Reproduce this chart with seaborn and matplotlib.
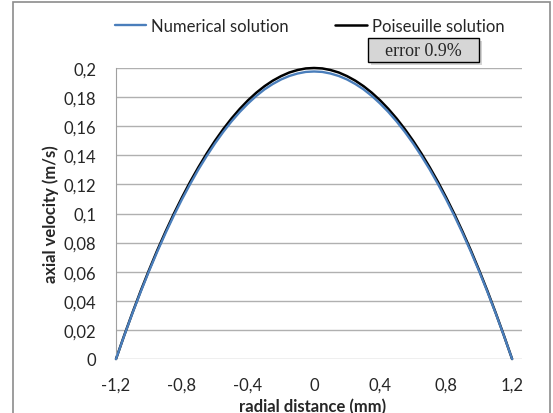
import matplotlib
matplotlib.use("Agg")
import matplotlib.pyplot as plt
import seaborn as sns
import pandas as pd
from matplotlib.patches import Rectangle

# radial positions (mm) and velocities (m/s)
radius = [-1.2, -1.15, -1.1, -1.05, -1.0, -0.95, -0.9, -0.85, -0.8, -0.75, -0.7, -0.65, -0.6,
          -0.55, -0.5, -0.45, -0.4, -0.35, -0.3, -0.25, -0.2, -0.15, -0.1, -0.05, 0.0,
          0.05, 0.1, 0.15, 0.2, 0.25, 0.3, 0.35, 0.4, 0.45, 0.5, 0.55, 0.6,
          0.65, 0.7, 0.75, 0.8, 0.85, 0.9, 0.95, 1.0, 1.05, 1.1, 1.15, 1.2]
numerical = [0.0, 0.0161, 0.0316, 0.0463, 0.0604, 0.0738, 0.0865, 0.0985, 0.1098, 0.1204, 0.1304, 0.1396, 0.1482,
             0.1561, 0.1633, 0.1698, 0.1756, 0.1808, 0.1853, 0.1890, 0.1921, 0.1945, 0.1962, 0.1973, 0.1976,
             0.1973, 0.1962, 0.1945, 0.1921, 0.1890, 0.1853, 0.1808, 0.1756, 0.1698, 0.1633, 0.1561, 0.1482,
             0.1396, 0.1304, 0.1204, 0.1098, 0.0985, 0.0865, 0.0738, 0.0604, 0.0463, 0.0316, 0.0161, 0.0]
poiseuille = [0.0, 0.0163, 0.0319, 0.0469, 0.0611, 0.0747, 0.0875, 0.0997, 0.1111, 0.1219, 0.1319, 0.1413, 0.1500,
              0.1580, 0.1653, 0.1719, 0.1778, 0.1830, 0.1875, 0.1913, 0.1944, 0.1969, 0.1986, 0.1997, 0.2000,
              0.1997, 0.1986, 0.1969, 0.1944, 0.1913, 0.1875, 0.1830, 0.1778, 0.1719, 0.1653, 0.1580, 0.1500,
              0.1413, 0.1319, 0.1219, 0.1111, 0.0997, 0.0875, 0.0747, 0.0611, 0.0469, 0.0319, 0.0163, 0.0]
x_ticks = [-1.2, -0.8, -0.4, 0, 0.4, 0.8, 1.2]
y_ticks = [0, 0.02, 0.04, 0.06, 0.08, 0.1, 0.12, 0.14, 0.16, 0.18, 0.2]

sns.set_style("white")
plt.rcParams['font.family'] = ['Lato', 'DejaVu Sans']

df = pd.DataFrame({"r": radius, "Numerical solution": numerical, "Poiseuille solution": poiseuille})

fig = plt.figure(figsize=(5.53, 4.14), dpi=100)
ax = fig.add_axes([116 / 553, 54 / 414, 406 / 553, 291 / 414])

sns.lineplot(data=df, x="r", y="Numerical solution", ax=ax, color="#4a7ebb", lw=1.7,
             label="Numerical solution", clip_on=False, zorder=3)
sns.lineplot(data=df, x="r", y="Poiseuille solution", ax=ax, color="black", lw=1.8,
             label="Poiseuille solution", clip_on=False, zorder=2)

ax.set_xlim(-1.2, 1.26)
ax.set_ylim(0, 0.2)
ax.set_yticks(y_ticks)
ax.set_yticklabels([("%g" % v).replace(".", ",") for v in y_ticks])
ax.set_xticks(x_ticks)
ax.set_xticklabels([("%g" % v).replace(".", ",") for v in x_ticks])
ax.tick_params(axis="y", length=0, labelsize=12, pad=14)
ax.tick_params(axis="x", length=0, labelsize=12, pad=13)
ax.grid(axis="y", color="#b0b0b0", lw=1)
ax.set_axisbelow(True)
for s in ["top", "right", "bottom"]:
    ax.spines[s].set_visible(False)
ax.spines["left"].set_color("#a0a0a0")
ax.set_xlabel("radial distance (mm)", fontsize=12, fontweight="bold")
ax.set_ylabel("axial velocity (m/s)", fontsize=12, fontweight="bold")
ax.xaxis.set_label_coords(0.485, -0.134)
ax.yaxis.set_label_coords(-0.14, 0.5)

leg = ax.legend(loc="center", bbox_to_anchor=(0.477, 1.145), ncol=2, frameon=False,
                fontsize=12, handlelength=1.9, handletextpad=0.3, columnspacing=2.8)

# error annotation box with shadow
fig.patches.append(Rectangle((371 / 553, 1 - 66 / 414), 111 / 553, 24 / 414, transform=fig.transFigure,
                             facecolor="#b8b8b8", edgecolor="none", alpha=0.6, zorder=4))
fig.patches.append(Rectangle((368 / 553, 1 - 63 / 414), 111 / 553, 24 / 414, transform=fig.transFigure,
                             facecolor="#d6d6d6", edgecolor="black", lw=1, zorder=5))
fig.text(423.5 / 553, 1 - 51 / 414, "error 0.9%", ha="center", va="center", fontsize=13,
         family="Liberation Serif", zorder=6)

# outer chart border
fig.patches.append(Rectangle((13 / 553, -0.05), 537 / 553, 1 - 3 / 414 + 0.05, transform=fig.transFigure,
                             facecolor="none", edgecolor="#8c8c8c", lw=1.2, zorder=1))

fig.savefig("out.png", dpi=100)
